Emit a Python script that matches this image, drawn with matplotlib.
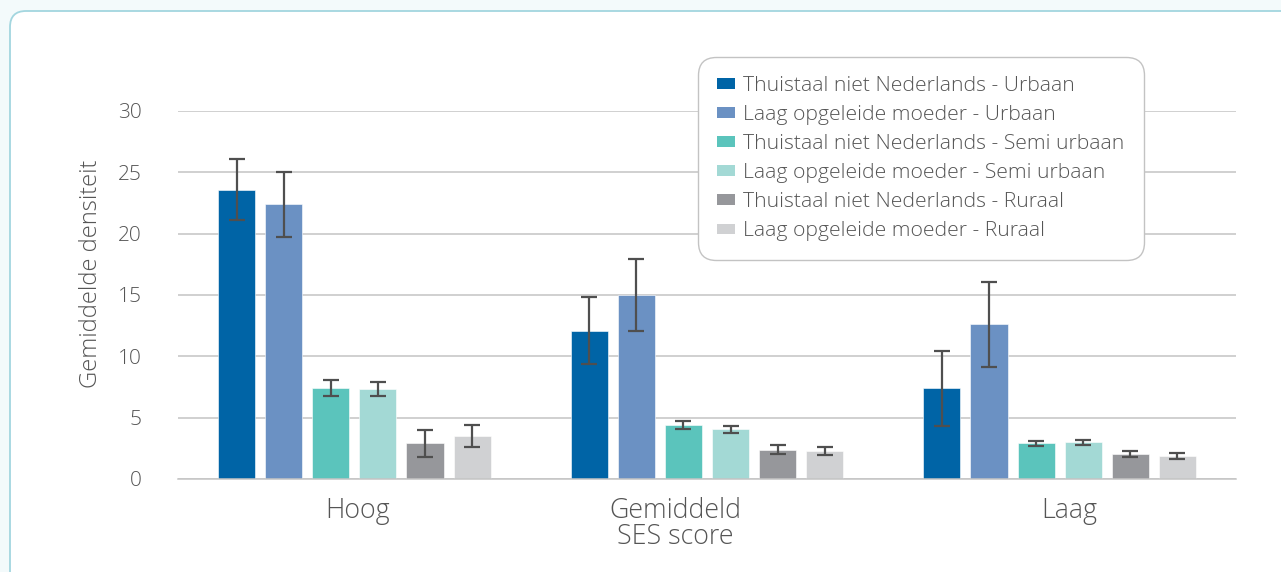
import matplotlib
matplotlib.use("Agg")
import matplotlib.pyplot as plt
import numpy as np
from matplotlib.patches import FancyBboxPatch
from matplotlib.transforms import ScaledTranslation

categories = ["Hoog", "Gemiddeld\nSES score", "Laag"]
series = [
    "Thuistaal niet Nederlands - Urbaan",
    "Laag opgeleide moeder - Urbaan",
    "Thuistaal niet Nederlands - Semi urbaan",
    "Laag opgeleide moeder - Semi urbaan",
    "Thuistaal niet Nederlands - Ruraal",
    "Laag opgeleide moeder - Ruraal",
]
values = [
    [23.6, 12.1, 7.4],
    [22.4, 15.0, 12.6],
    [7.45, 4.4, 2.93],
    [7.35, 4.05, 2.98],
    [2.9, 2.38, 2.05],
    [3.53, 2.28, 1.9],
]
errors = [
    [2.5, 2.7, 3.05],
    [2.65, 2.9, 3.45],
    [0.65, 0.3, 0.2],
    [0.55, 0.3, 0.2],
    [1.07, 0.37, 0.23],
    [0.9, 0.32, 0.23],
]
colors = ["#0064a6", "#6b91c3", "#5bc4bc", "#a3d9d5", "#96979b", "#d0d1d3"]
yticks = [0, 5, 10, 15, 20, 25, 30]

plt.rcParams['font.family'] = ['Open Sans', 'DejaVu Sans']

W, H = 1281, 572
fig = plt.figure(figsize=(W / 100, H / 100), dpi=100)
fig.patch.set_facecolor("#f3fafb")

card = FancyBboxPatch((10 / 100, -0.5), 14, (H - 11) / 100 + 0.5,
                      boxstyle="round,pad=0,rounding_size=0.16",
                      transform=fig.dpi_scale_trans, facecolor="white",
                      edgecolor="#a3d6df", linewidth=1.3, zorder=-10)
fig.patches.append(card)

ax = fig.add_axes([178 / W, 1 - 479 / H, (1236 - 178) / W, (479 - 111) / H])
ax.set_facecolor("none")

x = np.arange(len(categories))
step = 47 / 352
width = 37 / 352
n = len(series)
for i, (name, vals, errs, c) in enumerate(zip(series, values, errors, colors)):
    pos = x + (i - (n - 1) / 2) * step
    ax.bar(pos, vals, width=width, color=c, label=name, zorder=2,
           edgecolor="#ffffff", linewidth=0.4)
    ax.errorbar(pos, vals, yerr=errs, fmt="none", ecolor="#4f4f4f",
                elinewidth=1.6, capsize=5.5, capthick=1.6, zorder=3)

ax.set_xlim(-0.5, 2.5)
ax.set_ylim(0, 30)
ax.set_yticks(yticks)
ax.set_yticklabels([str(t) for t in yticks], fontsize=15, color="#555555",
                   fontweight="light")
ax.yaxis.grid(True, color="#c4c4c4", linewidth=1.1, zorder=0)
ax.set_axisbelow(True)
for s in ["top", "right", "left"]:
    ax.spines[s].set_visible(False)
ax.spines["bottom"].set_color("#c4c4c4")
ax.spines["bottom"].set_linewidth(1.1)
ax.tick_params(axis="y", length=0, pad=26)
ax.tick_params(axis="x", length=0, pad=13)
ax.set_xticks(x)
ax.set_xticklabels(categories, fontsize=19.3, color="#555555", fontweight="light",
                   linespacing=0.92)
offsets = [3, -32, 10]
for lab, off in zip(ax.get_xticklabels(), offsets):
    lab.set_transform(lab.get_transform() + ScaledTranslation(off / 100, 0, fig.dpi_scale_trans))

ax.set_ylabel("Gemiddelde densiteit", fontsize=17.1, color="#555555",
              fontweight="light")
ax.yaxis.set_label_coords(-0.071, 0.557)

leg = ax.legend(loc="upper left", bbox_to_anchor=(698 / W, 1 - 57 / H),
                bbox_transform=fig.transFigure, borderaxespad=0,
                frameon=True, handlelength=0.87, handleheight=0.4,
                handletextpad=0.38, labelspacing=0.43, borderpad=0.9,
                prop={"weight": "light", "size": 15.2})
fr = leg.get_frame()
fr.set_boxstyle("round,pad=0,rounding_size=0.85")
fr.set_edgecolor("#c3c3c3")
fr.set_linewidth(1.0)
fr.set_alpha(1)
for t in leg.get_texts():
    t.set_color("#555555")
for h in leg.legend_handles:
    h.set_edgecolor("none")

fig.savefig("out.png", dpi=100, facecolor=fig.get_facecolor())
